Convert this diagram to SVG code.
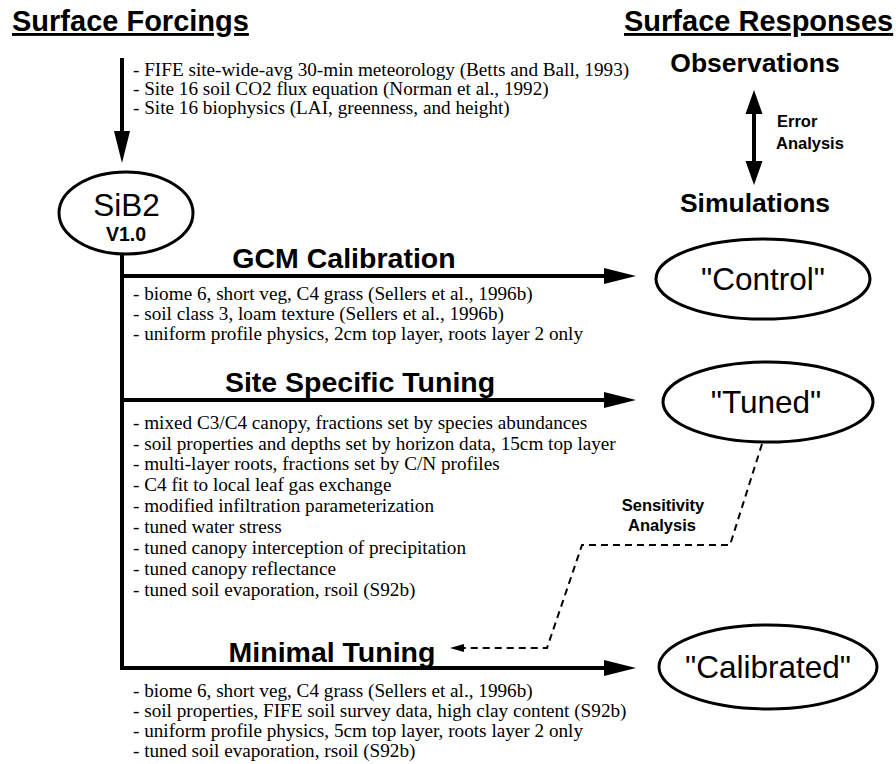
<svg xmlns="http://www.w3.org/2000/svg" width="896" height="764" viewBox="0 0 896 764">
<style>
.title{font-family:"Liberation Sans",Arial,sans-serif;font-weight:bold;font-size:29px;fill:#000;text-decoration:underline}
.head{font-family:"Liberation Sans",Arial,sans-serif;font-weight:bold;font-size:28.5px;fill:#000}
.resp{font-family:"Liberation Sans",Arial,sans-serif;font-weight:bold;font-size:26.5px;fill:#000}
.small{font-family:"Liberation Sans",Arial,sans-serif;font-weight:bold;font-size:16.5px;fill:#000}
.body{font-family:"Liberation Serif","Times New Roman",serif;font-size:19.2px;fill:#000}
.node{font-family:"Liberation Sans",Arial,sans-serif;font-size:31.5px;fill:#000}
.ell{fill:#fff;stroke:#000;stroke-width:3}
.solid{fill:none;stroke:#000;stroke-width:4}
.dash{fill:none;stroke:#000;stroke-width:2;stroke-dasharray:7 5}
</style>
<defs>
<marker id="ah" markerUnits="userSpaceOnUse" markerWidth="32" markerHeight="18" refX="20" refY="9" orient="auto"><path d="M0,1 L32,9 L0,17 Z" fill="#000"/></marker>
<marker id="ahd" markerUnits="userSpaceOnUse" markerWidth="24" markerHeight="18" refX="12" refY="9" orient="auto-start-reverse"><path d="M0,0.5 L24,9 L0,17.5 Z" fill="#000"/></marker>
<marker id="ahs" markerUnits="userSpaceOnUse" markerWidth="14" markerHeight="10" refX="6" refY="5" orient="auto"><path d="M0,1 L14,5 L0,9 Z" fill="#000"/></marker>
</defs>

<g id="titles">
<text class="title" x="12" y="31">Surface Forcings</text>
<text class="title" x="624" y="31">Surface Responses</text>
</g>

<g id="forcings-text">
<text class="body" x="133" y="76">- FIFE site-wide-avg 30-min meteorology (Betts and Ball, 1993)</text>
<text class="body" x="133" y="95">- Site 16 soil CO2 flux equation (Norman et al., 1992)</text>
<text class="body" x="133" y="114">- Site 16 biophysics (LAI, greenness, and height)</text>
</g>

<g id="observations"><text class="resp" x="755" y="72" text-anchor="middle">Observations</text></g>
<g id="simulations"><text class="resp" x="755" y="212" text-anchor="middle">Simulations</text></g>
<g id="error-label">
<text class="small" x="777" y="127">Error</text>
<text class="small" x="776" y="149">Analysis</text>
</g>

<g id="sib2">
<ellipse class="ell" cx="126" cy="213" rx="67" ry="41"/>
<text class="node" x="126.5" y="216" text-anchor="middle">SiB2</text>
<text class="small" x="126" y="241" text-anchor="middle" style="font-size:19.5px">V1.0</text>
</g>

<g id="control">
<ellipse class="ell" cx="763" cy="279" rx="107" ry="40"/>
<text class="node" x="763" y="290" text-anchor="middle">"Control"</text>
</g>
<g id="tuned">
<ellipse class="ell" cx="768" cy="402" rx="105" ry="40"/>
<text class="node" x="766" y="413" text-anchor="middle">"Tuned"</text>
</g>
<g id="calibrated">
<ellipse class="ell" cx="768" cy="667" rx="109" ry="42"/>
<text class="node" x="768" y="678" text-anchor="middle">"Calibrated"</text>
</g>

<g id="gcm">
<text class="head" x="344" y="268" text-anchor="middle">GCM Calibration</text>
<text class="body" x="133" y="300">- biome 6, short veg, C4 grass (Sellers et al., 1996b)</text>
<text class="body" x="133" y="320">- soil class 3, loam texture (Sellers et al., 1996b)</text>
<text class="body" x="133" y="340">- uniform profile physics, 2cm top layer, roots layer 2 only</text>
</g>

<g id="site">
<text class="head" x="360" y="392" text-anchor="middle">Site Specific Tuning</text>
<text class="body" x="133" y="429">- mixed C3/C4 canopy, fractions set by species abundances</text>
<text class="body" x="133" y="450">- soil properties and depths set by horizon data, 15cm top layer</text>
<text class="body" x="133" y="470">- multi-layer roots, fractions set by C/N profiles</text>
<text class="body" x="133" y="491">- C4 fit to local leaf gas exchange</text>
<text class="body" x="133" y="512">- modified infiltration parameterization</text>
<text class="body" x="133" y="533">- tuned water stress</text>
<text class="body" x="133" y="554">- tuned canopy interception of precipitation</text>
<text class="body" x="133" y="575">- tuned canopy reflectance</text>
<text class="body" x="133" y="596">- tuned soil evaporation, rsoil (S92b)</text>
</g>

<g id="minimal">
<text class="head" x="332" y="662" text-anchor="middle">Minimal Tuning</text>
<text class="body" x="133" y="697">- biome 6, short veg, C4 grass (Sellers et al., 1996b)</text>
<text class="body" x="133" y="717">- soil properties, FIFE soil survey data, high clay content (S92b)</text>
<text class="body" x="133" y="737">- uniform profile physics, 5cm top layer, roots layer 2 only</text>
<text class="body" x="133" y="757">- tuned soil evaporation, rsoil (S92b)</text>
</g>

<g id="sens-label">
<text class="small" x="663" y="511" text-anchor="middle">Sensitivity</text>
<text class="small" x="662" y="531" text-anchor="middle">Analysis</text>
</g>

<g id="connectors">
<path class="solid" d="M122,58 V151" marker-end="url(#ah)"/>
<path class="solid" d="M754,102 V173" marker-start="url(#ahd)" marker-end="url(#ahd)"/>
<path class="solid" d="M122,253 V670"/>
<path class="solid" d="M120,276 H624" marker-end="url(#ah)"/>
<path class="solid" d="M120,400 H624" marker-end="url(#ah)"/>
<path class="solid" d="M120,668 H624" marker-end="url(#ah)"/>
<path class="dash" d="M762,444 L730,545 H582 L547,648 H458" marker-end="url(#ahs)"/>
</g>
</svg>
